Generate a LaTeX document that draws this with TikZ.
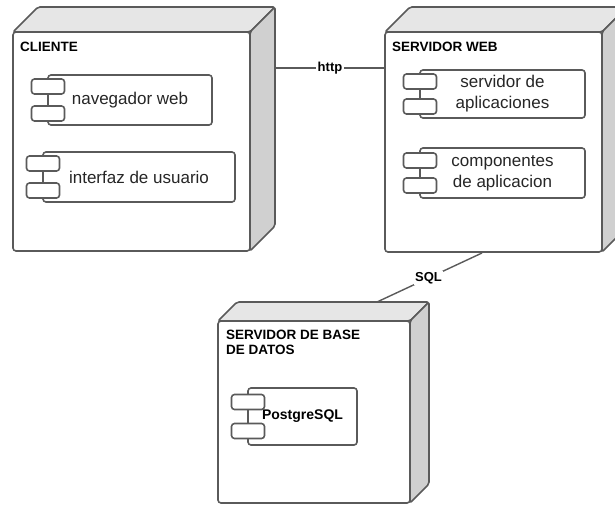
\documentclass[tikz,border=0pt]{standalone}
\usepackage{fontspec}
\setmainfont{Liberation Sans}
\usetikzlibrary{calc,backgrounds}

\definecolor{edge}{HTML}{5A5A5A}
\definecolor{topface}{HTML}{E6E6E6}
\definecolor{sideface}{HTML}{D0D0D0}

\tikzset{
  front/.style={draw=edge, line width=1.6pt, fill=white, rounded corners=3pt,
    anchor=north west, inner sep=0pt, outer sep=0pt},
  face/.style={draw=edge, line width=1.6pt, rounded corners=2pt, line join=round},
  comp/.style={draw=edge, line width=1.6pt, fill=white, rounded corners=3pt,
    align=center, font=\fontsize{17}{21}\selectfont, text=black!85,
    inner sep=0pt, outer sep=0pt},
  icon/.style={draw=edge, line width=1.6pt, fill=white, rounded corners=3pt,
    minimum width=33pt, minimum height=15pt, inner sep=0pt},
  title/.style={font=\fontsize{13.5}{15}\selectfont\bfseries, anchor=north west,
    align=left, inner sep=0pt},
  link/.style={draw=edge, line width=1.4pt},
  linklbl/.style={font=\fontsize{13}{15}\selectfont\bfseries, fill=white, inner sep=1.5pt},
}

% top and right faces of a 3D device box, drawn behind its front face
\newcommand\devicefaces[2]{%
  \begin{scope}[on background layer]
    \path[face, fill=topface] (#1.north west) -- ++(#2,-#2)
      -- ($(#1.north east)+(#2,-#2)$) -- (#1.north east) -- cycle;
    \path[face, fill=sideface] (#1.north east) -- ++(#2,-#2)
      -- ($(#1.south east)+(#2,-#2)$) -- (#1.south east) -- cycle;
  \end{scope}}

% the two small tabs on the left edge of a component
\newcommand\comptabs[2]{%
  \node[icon] (#1-tabA) at ($(#1.west)+(0,-#2)$) {};
  \node[icon] (#1-tabB) at ($(#1.west)+(0,#2)$) {};}

\begin{document}
\begin{tikzpicture}[x=1pt,y=-1pt]
\useasboundingbox (0,0) rectangle (615,505);
\clip (0,0) rectangle (615,505);

% CLIENTE
\node[front, minimum width=237pt, minimum height=219pt] (cli) at (13,32) {};
\devicefaces{cli}{25}
\node[title] (cli-title) at ($(cli.north west)+(7,10)$) {CLIENTE};
\node[comp, minimum width=164pt, minimum height=50pt] (nav) at (130,100) {navegador web};
\comptabs{nav}{13.5}
\node[comp, minimum width=192pt, minimum height=50pt] (ui) at (139,177) {interfaz de usuario};
\comptabs{ui}{13.5}

% SERVIDOR WEB
\node[front, minimum width=217pt, minimum height=220pt] (web) at (385,32) {};
\devicefaces{web}{25}
\node[title] (web-title) at ($(web.north west)+(7,10)$) {SERVIDOR WEB};
\node[comp, minimum width=165pt, minimum height=48pt] (app) at (502.5,94) {servidor de\\aplicaciones};
\comptabs{app}{12.5}
\node[comp, minimum width=165pt, minimum height=50pt] (cmp) at (502.5,173) {componentes\\de aplicacion};
\comptabs{cmp}{12.5}

% SERVIDOR DE BASE DE DATOS
\node[front, minimum width=192pt, minimum height=182pt] (db) at (218,321) {};
\devicefaces{db}{19}
\node[title] (db-title) at ($(db.north west)+(8,9)$) {SERVIDOR DE BASE\\DE DATOS};
\node[comp, minimum width=109pt, minimum height=57pt,
  font=\fontsize{14}{17}\selectfont\bfseries, text=black] (pg) at (302.5,416.5) {PostgreSQL};
\comptabs{pg}{14.5}

% connections
\coordinate (cli-port) at ($(cli.north east)+(25,36)$);
\coordinate (web-port) at ($(web.north west)+(0,36)$);
\draw[link] (cli-port) -- node[linklbl] (http) {http} (web-port);

\coordinate (web-sql) at ($(web.south)+(-11.5,1)$);
\coordinate (db-sql) at ($(db.north west)+(159,-19)$);
\draw[link] (web-sql) -- node[linklbl, pos=0.51] (sql) {SQL} (db-sql);
\end{tikzpicture}
\end{document}
